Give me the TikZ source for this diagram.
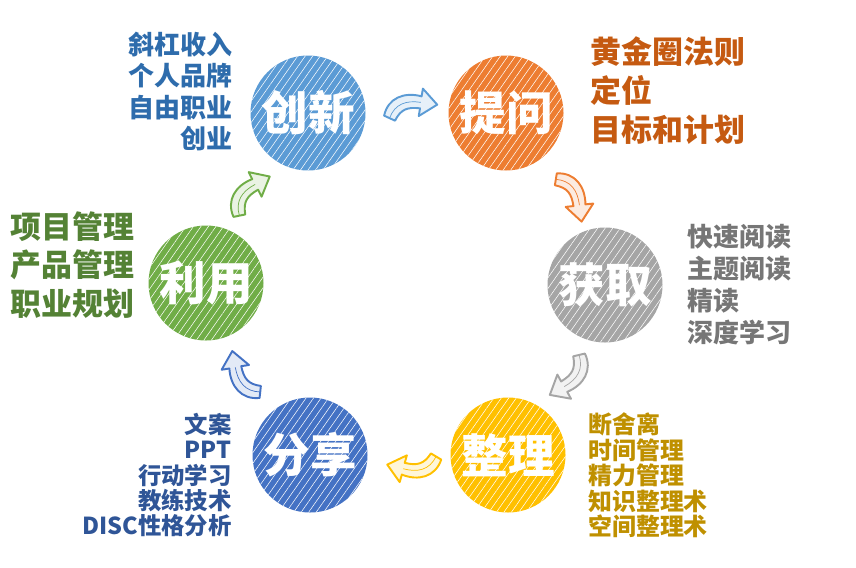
\documentclass[tikz,border=0pt]{standalone}
\usepackage{fontspec}
\setmainfont{Noto Sans CJK SC}
\usepackage{xcolor}
\usepackage{tikz}
\usetikzlibrary{arrows.meta,patterns.meta,calc}

\definecolor{cxblue}{RGB}{91,155,213}
\definecolor{tworange}{RGB}{237,125,49}
\definecolor{hqgray}{RGB}{165,165,165}
\definecolor{zlgold}{RGB}{255,192,0}
\definecolor{fxblue}{RGB}{68,114,196}
\definecolor{lygreen}{RGB}{112,173,71}
\definecolor{cxtext}{RGB}{46,108,172}
\definecolor{twtext}{RGB}{197,90,17}
\definecolor{hqtext}{RGB}{118,118,118}
\definecolor{zltext}{RGB}{191,144,0}
\definecolor{fxtext}{RGB}{47,85,151}
\definecolor{lytext}{RGB}{84,130,53}

\begin{document}
\begin{tikzpicture}[
    ball/.style={circle, minimum size=2.3cm, inner sep=0pt, text=white, font=\fontsize{26.5}{28}\selectfont\bfseries,
        postaction={pattern={Lines[angle=55,distance=3.5pt,line width=0.3pt]}, pattern color=white, fill opacity=0.14}},
    list/.style 2 args={inner sep=0pt, font=\fontsize{#1}{#2}\selectfont\bfseries},
    pics/flow/.style={code={
        \filldraw[draw=#1, fill=#1!15, line width=1.1pt, line join=round]
            (-0.40,-0.08) -- (-0.58,0.08) .. controls (-0.40,0.40) and (-0.05,0.42) .. (0.25,0.23)
            -- (0.32,0.37) -- (0.50,-0.02) -- (0.08,-0.13) -- (0.15,0.01)
            .. controls (-0.08,0.11) and (-0.22,0.11) .. (-0.40,-0.08) -- cycle;
        \draw[#1, line width=0.4pt] (-0.49,0.0) .. controls (-0.31,0.24) and (-0.07,0.25) .. (0.2,0.12);
    }}
]
    \useasboundingbox (0,0) rectangle (17.12,-11.34);

    % Circles
    \node[ball, fill=cxblue] (cx) at (6.16,-2.26) {创新};
    \node[ball, fill=tworange] (tw) at (10.12,-2.26) {提问};
    \node[ball, fill=hqgray] (hq) at (12.10,-5.70) {获取};
    \node[ball, fill=zlgold] (zl) at (10.16,-9.10) {整理};
    \node[ball, fill=fxblue] (fx) at (6.20,-9.10) {分享};
    \node[ball, fill=lygreen] (ly) at (4.12,-5.66) {利用};

    % Lists
    \node[list={14.8}{17.9}, anchor=east, align=right, text=cxtext] (cxlist) at (4.66,-1.83) {斜杠收入\\个人品牌\\自由职业\\创业};
    \node[list={17.6}{22.2}, anchor=west, align=left, text=twtext] (twlist) at (11.80,-1.82) {黄金圈法则\\定位\\目标和计划};
    \node[list={14.8}{18.2}, anchor=west, align=left, text=hqtext] (hqlist) at (13.74,-5.70) {快速阅读\\主题阅读\\精读\\深度学习};
    \node[list={13.6}{14.5}, anchor=west, align=left, text=zltext] (zllist) at (11.76,-9.51) {断舍离\\时间管理\\精力管理\\知识整理术\\空间整理术};
    \node[list={13.3}{14.5}, anchor=east, align=right, text=fxtext] (fxlist) at (4.64,-9.50) {文案\\PPT\\行动学习\\教练技术\\DISC性格分析};
    \node[list={17.6}{21.9}, anchor=west, align=left, text=lytext] (lylist) at (0.20,-5.30) {项目管理\\产品管理\\职业规划};

    % Flow arrows
    \pic[rotate=17] at ($(cx)!0.5!(tw)+(0.12,0.04)$) {flow=cxblue};
    \pic[rotate=-57.5] at ($(tw)!0.5!(hq)+(0.27,-0.02)$) {flow=tworange};
    \pic[rotate=-125] at ($(hq)!0.5!(zl)+(0.17,-0.10)$) {flow=hqgray};
    \pic[rotate=190.6] at ($(zl)!0.5!(fx)+(0.06,-0.12)$) {flow=zlgold};
    \pic[rotate=125.5] at ($(fx)!0.5!(ly)+(-0.24,-0.06)$) {flow=fxblue};
    \pic[rotate=53.4] at ($(ly)!0.5!(cx)+(-0.06,0.04)$) {flow=lygreen};
\end{tikzpicture}
\end{document}
